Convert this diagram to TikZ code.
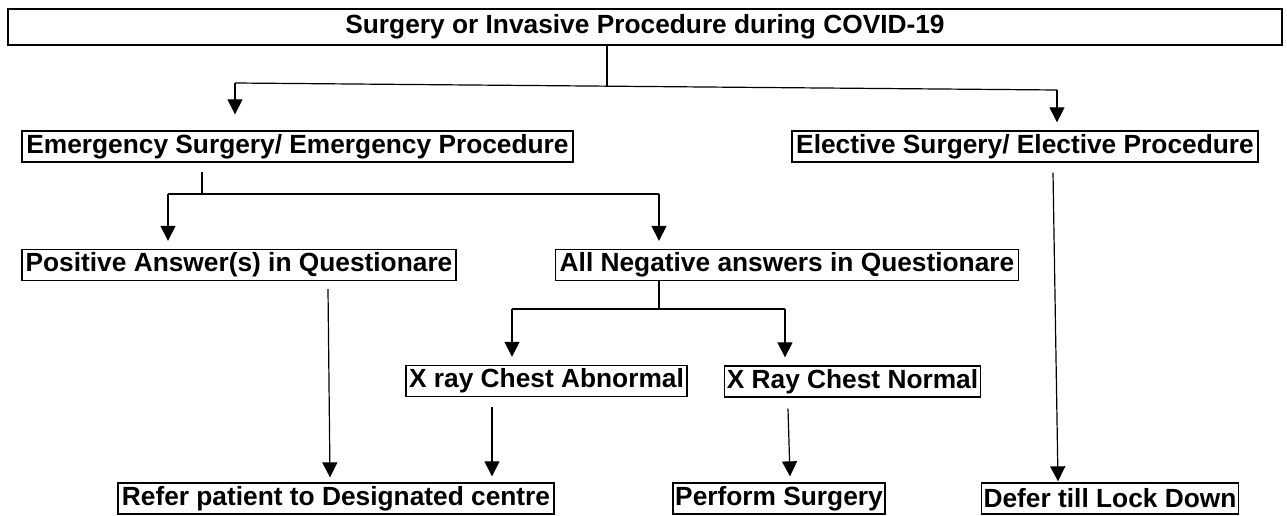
\documentclass[tikz,border=0pt]{standalone}
\usepackage{fontspec}
\setmainfont{Liberation Sans}
\usetikzlibrary{arrows.meta}

\begin{document}
\begin{tikzpicture}[x=1pt, y=-1pt,
    every node/.style={font=\fontsize{26.3}{30}\selectfont\bfseries},
    box/.style={rectangle, draw=black, line width=1.3pt, inner xsep=2pt, inner ysep=0pt, minimum height=31pt, text centered},
    link/.style={line width=1.2pt},
    arrow/.style={line width=1.2pt, -{Triangle[width=15pt,length=15pt]}}
    ]
    \useasboundingbox (0,0) rectangle (1287,516);

    % Boxes
    \node (covid) [box, minimum width=1274pt, minimum height=36pt] at (645,27) {Surgery or Invasive Procedure during COVID-19};
    \node (emerg) [box, minimum width=551pt] at (297.5,146.5) {Emergency Surgery/ Emergency Procedure};
    \node (elect) [box, minimum width=466pt] at (1025,146.5) {Elective Surgery/ Elective Procedure};
    \node (posans) [box, minimum width=434pt] at (239,265) {Positive Answer(s) in Questionare};
    \node (negans) [box, minimum width=463pt] at (787,265) {All Negative answers in Questionare};
    \node (xabn) [box, minimum width=281pt] at (546.5,381) {X ray Chest Abnormal};
    \node (xnorm) [box, minimum width=255pt] at (852.5,381.5) {X Ray Chest Normal};
    \node (refer) [box, minimum width=436pt] at (336,498.5) {Refer patient to Designated centre};
    \node (perform) [box, minimum width=212pt] at (779,498.5) {Perform Surgery};
    \node (defer) [box, minimum width=254pt] at (1110,498.5) {Defer till Lock Down};

    % Branch points
    \coordinate (topL) at (235,83);
    \coordinate (topR) at (1057,90);
    \coordinate (topJ) at (607,86.2);
    \coordinate (emL) at (168,194);
    \coordinate (emR) at (659,194);
    \coordinate (emJ) at (202,194);
    \coordinate (negL) at (512,309);
    \coordinate (negR) at (785,309);
    \coordinate (negJ) at (659,309);

    % Arrows - top level
    \draw [link] (topJ |- covid.south) -- (topJ);
    \draw [link] (topL) -- (topR);
    \draw [arrow, shorten >=16pt] (topL) -- (topL |- emerg.north);
    \draw [arrow, shorten >=8pt] (topR) -- (topR |- elect.north);

    % Arrows - emergency
    \draw [link, shorten <=9pt] (emJ |- emerg.south) -- (emJ);
    \draw [link] (emL) -- (emR);
    \draw [arrow, shorten >=8pt] (emL) -- (emL |- posans.north);
    \draw [arrow, shorten >=8pt] (emR) -- (emR |- negans.north);

    % Arrows - negative answers
    \draw [link] (negJ |- negans.south) -- (negJ);
    \draw [link] (negL) -- (negR);
    \draw [arrow, shorten >=8pt] (negL) -- (negL |- xabn.north);
    \draw [arrow, shorten >=8pt] (negR) -- (negR |- xnorm.north);

    % Arrows - outcomes
    \draw [arrow] ([xshift=89pt, yshift=-8pt]posans.south) -- ([xshift=-6pt, yshift=5pt]refer.north);
    \draw [arrow] ([xshift=-54.5pt, yshift=-10pt]xabn.south) -- ([xshift=156pt, yshift=6pt]refer.north);
    \draw [arrow] ([xshift=-64.5pt, yshift=-11pt]xnorm.south) -- ([xshift=11pt, yshift=6pt]perform.north);
    \draw [arrow] ([xshift=28pt, yshift=-10pt]elect.south) -- ([xshift=-52pt, yshift=1pt]defer.north);

\end{tikzpicture}
\end{document}
